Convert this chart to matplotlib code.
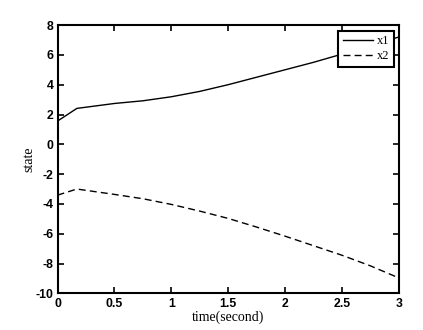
import matplotlib
matplotlib.use("Agg")
import matplotlib.pyplot as plt

# values
t = [0.0, 0.17, 0.5, 0.75, 1.0, 1.25, 1.5, 1.75, 2.0, 2.25, 2.5, 2.75, 3.0]
x1 = [1.56, 2.41, 2.74, 2.92, 3.19, 3.55, 4.0, 4.5, 5.0, 5.5, 6.05, 6.6, 7.2]
x2 = [-3.41, -3.0, -3.36, -3.65, -4.03, -4.48, -4.97, -5.55, -6.16, -6.8, -7.44, -8.15, -8.96]
x_ticks = [0, 0.5, 1, 1.5, 2, 2.5, 3]
x_tick_labels = ["0", "0.5", "1", "1.5", "2", "2.5", "3"]
y_ticks = list(range(-10, 9, 2))

plt.rcParams["font.family"] = ["Liberation Sans", "DejaVu Sans"]
plt.rcParams["axes.unicode_minus"] = False

fig = plt.figure(figsize=(4.23, 3.30), dpi=100)
ax = fig.add_axes([0.136, 0.111, 0.8066, 0.813])

ax.plot(t, x1, color="black", linewidth=1.0, label="x1")
ax.plot(t, x2, color="black", linewidth=1.0, linestyle=(0, (5, 3)), label="x2")

ax.set_xlim(0, 3)
ax.set_ylim(-10, 8)
ax.set_xticks(x_ticks, x_tick_labels)
ax.set_yticks(y_ticks)
ax.tick_params(direction="in", length=4, width=1.2, top=True, right=True,
               labelsize=8.8, pad=3)
for lbl in ax.get_xticklabels() + ax.get_yticklabels():
    lbl.set_fontweight("bold")
for side in ["top", "left", "right", "bottom"]:
    ax.spines[side].set_linewidth(1.5)

ax.set_xlabel("time(second)", fontsize=10, family=["Liberation Serif"], labelpad=1)
ax.set_ylabel("state", fontsize=10, family=["Liberation Serif"], labelpad=0)

leg = ax.legend(loc="upper right", bbox_to_anchor=(0.986, 0.979), borderaxespad=0,
                fancybox=False, framealpha=1, edgecolor="black", handlelength=2.4,
                prop={"family": "Liberation Serif", "size": 9}, borderpad=0.35,
                labelspacing=0.25, handletextpad=0.35)
leg.get_frame().set_linewidth(1.5)

fig.savefig("out.png", dpi=100)
